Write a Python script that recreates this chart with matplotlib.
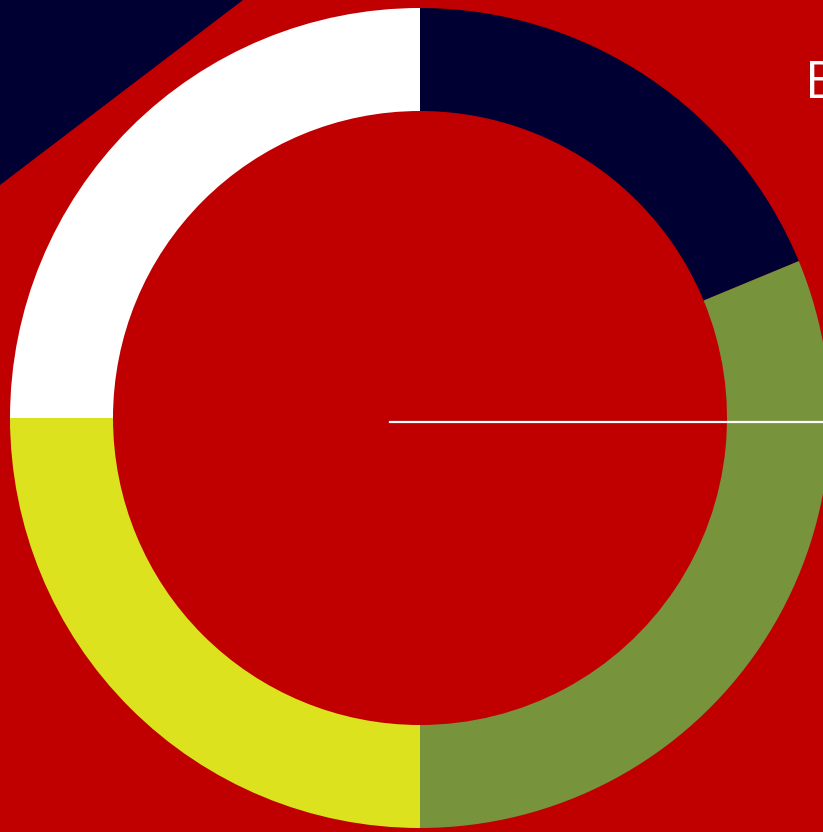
import matplotlib.pyplot as plt
from matplotlib.patches import Polygon

# four segments of the ring, clockwise from the top
labels = ['navy', 'green', 'yellow', 'white']
values = [18.75, 31.25, 25, 25]
colors = ['#000033', '#77933C', '#DCE21E', '#FFFFFF']

W, H = 823, 832
fig = plt.figure(figsize=(W / 100, H / 100), dpi=100, facecolor='#C00000')
ax = fig.add_axes([0, 0, 1, 1])
ax.set_facecolor('#C00000')

# dark corner shape top left
ax.add_patch(Polygon([(0, H), (243, H), (0, H - 185)], closed=True,
                     facecolor='#000033', edgecolor='none', zorder=0))

ax.pie(values, colors=colors, radius=410, center=(420, 414), startangle=90,
       counterclock=False, frame=True,
       wedgeprops=dict(width=103, linewidth=0))

ax.plot([390, W], [410, 410], color='white', lw=1.6, zorder=5)

ax.text(805, 734, 'B', color='white', fontsize=37, family='Open Sans',
        fontweight='normal', ha='left', va='baseline')

ax.set_xlim(0, W)
ax.set_ylim(0, H)
ax.set_aspect('auto')
ax.axis('off')

plt.savefig('out.png', dpi=100, facecolor=fig.get_facecolor())
